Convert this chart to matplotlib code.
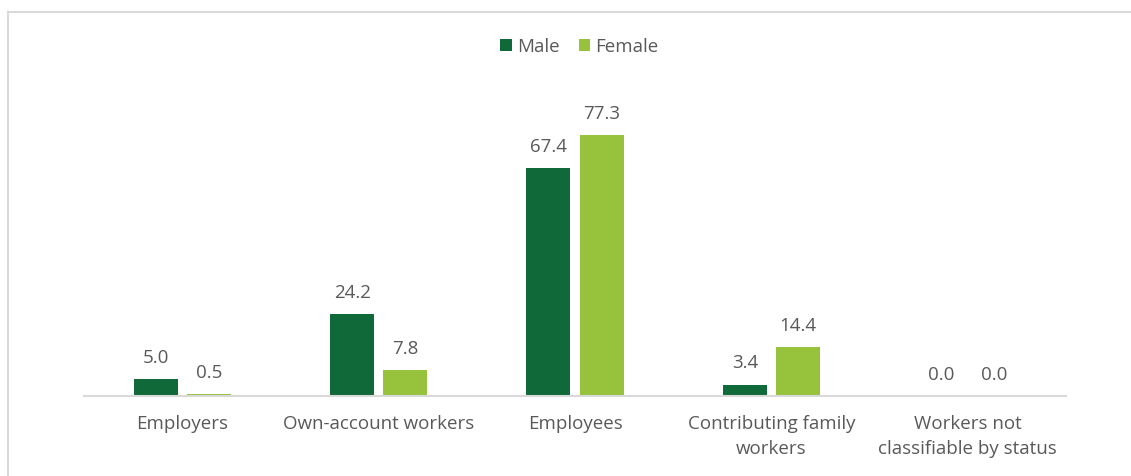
import matplotlib.pyplot as plt
import numpy as np
from matplotlib.lines import Line2D

# Datos
categories = ["Employers", "Own-account workers", "Employees",
              "Contributing family\nworkers", "Workers not\nclassifiable by status"]
male = [5.0, 24.2, 67.4, 3.4, 0.0]
female = [0.5, 7.8, 77.3, 14.4, 0.0]

MALE_C = "#0f6938"
FEMALE_C = "#96c23c"
TEXT_C = "#595959"
FS = 13.5

plt.rcParams['font.family'] = ['Open Sans', 'DejaVu Sans']

fig = plt.figure(figsize=(11.31, 4.76), dpi=100)
ax = fig.add_axes([0.0743, 0.168, 0.8682, 0.639])

x = np.arange(len(categories))
w = 0.224
off = 0.135
b1 = ax.bar(x - off, male, w, color=MALE_C, label="Male")
b2 = ax.bar(x + off, female, w, color=FEMALE_C, label="Female")

for bars, vals in ((b1, male), (b2, female)):
    for rect, v in zip(bars, vals):
        ax.text(rect.get_x() + rect.get_width() / 2, v + 3.6, f"{v:.1f}",
                ha='center', va='bottom', fontsize=FS, color=TEXT_C)

ax.set_xlim(-0.5, len(categories) - 0.5)
ax.set_ylim(0, 90)
ax.set_xticks(x)
ax.set_xticklabels(categories, fontsize=FS, color=TEXT_C, linespacing=1.5)
ax.tick_params(axis='x', length=0, pad=14)
ax.set_yticks([])
for s in ('top', 'right', 'left'):
    ax.spines[s].set_visible(False)
ax.spines['bottom'].set_color('#d9d9d9')
ax.spines['bottom'].set_linewidth(1.5)

fig.legend(handles=[b1, b2], labels=["Male", "Female"], loc='center',
           bbox_to_anchor=(0.5124, 0.902), ncol=2, frameon=False,
           fontsize=FS, labelcolor=TEXT_C, handlelength=0.6,
           handleheight=0.6, handletextpad=0.3, columnspacing=1.0)

# Marco gris claro (arriba e izquierda)
W, H = 1131, 476
fig.add_artist(Line2D([8 / W, 1], [1 - 12 / H, 1 - 12 / H], color='#d9d9d9',
                      lw=1.5, transform=fig.transFigure))
fig.add_artist(Line2D([8 / W, 8 / W], [0, 1 - 12 / H], color='#d9d9d9',
                      lw=1.5, transform=fig.transFigure))

fig.savefig("out.png", dpi=100)
